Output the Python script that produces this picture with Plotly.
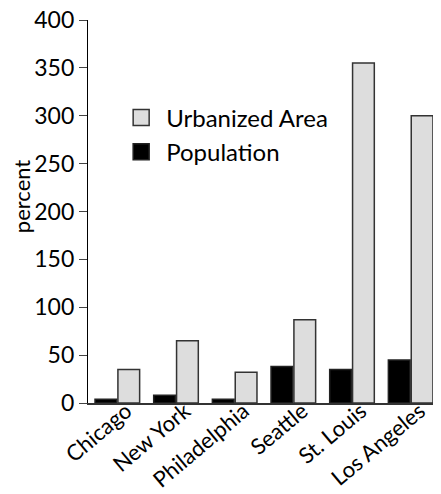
import plotly.graph_objects as go

cities = ["Chicago", "New York", "Philadelphia", "Seattle", "St. Louis", "Los Angeles"]
population = [4, 8, 4, 38, 35, 45]
urbanized_area = [35, 65, 32, 87, 355, 300]
y_ticks = [0, 50, 100, 150, 200, 250, 300, 350, 400]

FONT = "Lato, DejaVu Sans, sans-serif"
URB_FILL, URB_LINE = "#dddddd", "#333333"
POP_FILL, POP_LINE = "black", "#222222"

fig = go.Figure()
fig.add_trace(go.Bar(x=cities, y=population, name="Population", showlegend=False,
                     marker=dict(color=POP_FILL, line=dict(color=POP_LINE, width=1.5))))
fig.add_trace(go.Bar(x=cities, y=urbanized_area, name="Urbanized Area", showlegend=False,
                     marker=dict(color=URB_FILL, line=dict(color=URB_LINE, width=1.5))))
# legend entries with larger square swatches
fig.add_trace(go.Scatter(x=[None], y=[None], mode="markers", name="Population",
                         marker=dict(symbol="square", size=28, color=POP_FILL,
                                     line=dict(color=POP_LINE, width=1.5))))
fig.add_trace(go.Scatter(x=[None], y=[None], mode="markers", name="Urbanized Area",
                         marker=dict(symbol="square", size=28, color=URB_FILL,
                                     line=dict(color=URB_LINE, width=1.5))))

fig.update_layout(
    width=433, height=486,
    margin=dict(l=80, r=1, t=12, b=91, autoexpand=False),
    plot_bgcolor="white", paper_bgcolor="white",
    barmode="group", bargap=0.22, bargroupgap=0.05,
    font=dict(family=FONT, color="black"),
    showlegend=True,
    legend=dict(x=0.08, y=0.803, xanchor="left", yanchor="top",
                traceorder="reversed", font=dict(size=24), itemsizing="trace",
                bgcolor="rgba(0,0,0,0)", itemwidth=40, tracegroupgap=0),
    xaxis=dict(showline=True, linecolor="#333", linewidth=1.5, ticks="",
               tickangle=-40, tickfont=dict(size=22), showgrid=False,
               automargin=False, ticklabelstandoff=-15, ticklabelshift=9),
    yaxis=dict(range=[0, 400], tickvals=y_ticks, showline=True, linecolor="black",
               linewidth=1.2, ticks="outside", ticklen=8, tickwidth=1.2,
               tickfont=dict(size=23), showgrid=False, zeroline=False,
               ticklabeloverflow="allow", automargin=False),
    annotations=[dict(text="percent", xref="paper", yref="paper", x=0, y=0.54,
                      xanchor="center", yanchor="middle", xshift=-67,
                      textangle=-90, showarrow=False, font=dict(size=22))],
)

fig.write_html("out.html")
